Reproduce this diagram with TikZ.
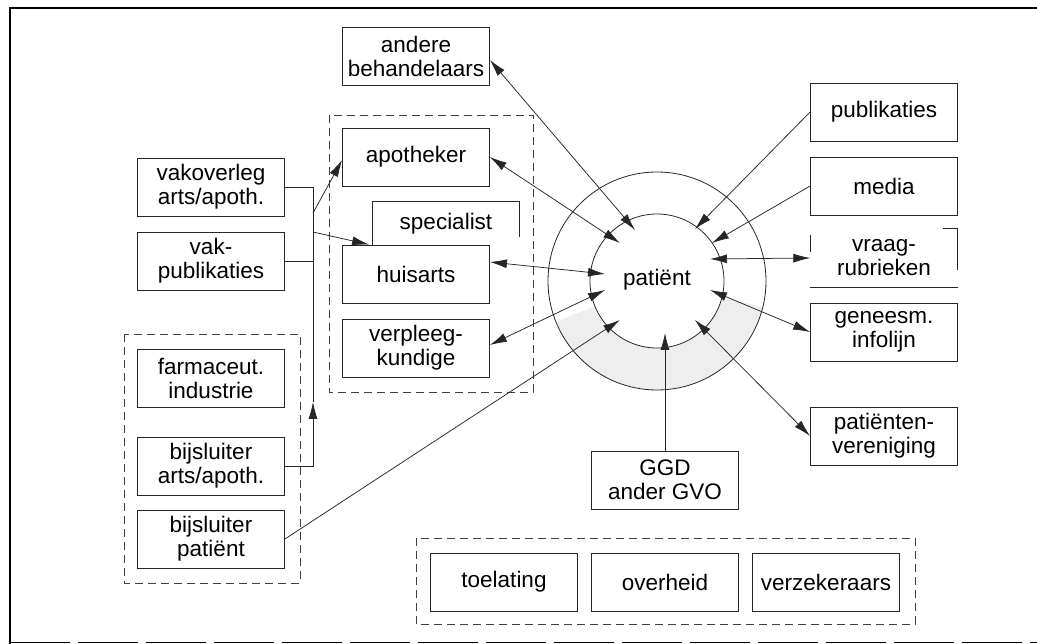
\documentclass[tikz,border=0pt]{standalone}
\usepackage{fontspec}
\setmainfont{Liberation Sans}
\usetikzlibrary{arrows.meta}
\begin{document}
\begin{tikzpicture}[x=1pt,y=-1pt,
  boxline/.style={draw=black!85, line width=0.8pt},
  box/.style={boxline, fill=white, minimum width=147pt, minimum height=58pt, inner sep=0pt, align=center, font=\fontsize{22.5}{24}\selectfont},
  plainbox/.style={draw=none, minimum width=147pt, minimum height=58pt, inner sep=0pt, align=center, font=\fontsize{22.5}{24}\selectfont},
  grp/.style={draw=black!75, line width=0.8pt, dash pattern=on 8pt off 5pt},
  conn/.style={line width=0.75pt, draw=black!85},
  tip/.style={-{Latex[length=17pt,width=9pt]}},
  dtip/.style={{Latex[length=17pt,width=9pt]}-{Latex[length=17pt,width=9pt]}}
]
\useasboundingbox (0,0) rectangle (1037,644);
% outer frame
\draw[line width=1.6pt] (10,644) -- (10,8) -- (1037,8);
\draw[line width=1pt, dash pattern=on 60pt off 8pt] (10,642) -- (1037,642);

% groups
\draw[grp] (329,115) rectangle (533,392);
\draw[grp] (124,334) rectangle (300,583);
\draw[grp] (416,538) rectangle (915,624);

% circle
\coordinate (c) at (657,281);
\fill[gray!13] ([shift={(14:109)}]c) arc[start angle=14, end angle=158, radius=109]
  -- ([shift={(158:67)}]c) arc[start angle=158, end angle=14, radius=67] -- cycle;
\draw[line width=0.8pt, black!85] (c) circle[radius=109];
\draw[line width=0.8pt, black!85] (c) circle[radius=67];
\node[font=\fontsize{22.5}{24}\selectfont] (pat) at (657,280) {patiënt};

% middle column
\node[box] (andere) at (416,56) {andere\\behandelaars};
\node[box] (apotheker) at (416,157) {apotheker};
\node[plainbox, minimum width=146pt, minimum height=43pt] (spec) at (446,223.5) {specialist};
\draw[boxline] (spec.south west) -- (spec.north west) -- (spec.north east) -- ([yshift=8pt]spec.south east);
\node[box] (huisarts) at (416,274) {huisarts};
\node[box] (verpleeg) at (416,348) {verpleeg-\\kundige};

% left column
\node[box] (vakoverleg) at (211,187) {vakoverleg\\arts/apoth.};
\node[box] (vakpub) at (211,261) {vak-\\publikaties};
\node[box] (farma) at (211,378) {farmaceut.\\industrie};
\node[box] (bijsarts) at (211,466) {bijsluiter\\arts/apoth.};
\node[box] (bijspat) at (211,539) {bijsluiter\\patiënt};

% right column
\node[box] (publ) at (884,112) {publikaties};
\node[box] (media) at (884,186) {media};
\node[plainbox] (vraag) at (884,258) {vraag-\\rubrieken};
\draw[boxline] (vraag.south west) -- (vraag.south east);
\draw[boxline] ([yshift=-6pt]vraag.north west) -- ([yshift=-23pt]vraag.north west);
\draw[boxline] ([xshift=-15pt]vraag.north east) -- (vraag.north east) -- ([yshift=-41pt]vraag.north east);
\node[box] (geneesm) at (884,332) {geneesm.\\infolijn};
\node[box] (patver) at (884,436) {patiënten-\\vereniging};

% bottom
\node[box] (ggd) at (665,480) {GGD\\ander GVO};
\node[box] (toel) at (504,582) {toelating};
\node[box] (overheid) at (665,582) {overheid};
\node[box] (verzek) at (826,582) {verzekeraars};

% circle end points
\coordinate (tA) at (635,230);
\coordinate (tAp) at (620,243);
\coordinate (tH) at (605,274);
\coordinate (tV) at (605,290);
\coordinate (tB) at (620,320);
\coordinate (tG) at (665,333);
\coordinate (tPV) at (695,320);
\coordinate (tGI) at (710,290);
\coordinate (tVR) at (710,259);
\coordinate (tM) at (712,243);
\coordinate (tP) at (695,229);

% connectors to patient
\draw[conn,dtip] ([yshift=-4pt]andere.east) -- (tA);
\draw[conn,dtip] (apotheker.east) -- (tAp);
\draw[conn,dtip] ([yshift=12pt]huisarts.east) -- (tH);
\draw[conn,dtip] ([yshift=3pt]verpleeg.east) -- (tV);
\draw[conn,tip] (bijspat.east) -- (tB);
\draw[conn,tip] (ggd.north) -- (tG);
\draw[conn,dtip] (tPV) -- (patver.west);
\draw[conn,dtip] (tGI) -- (geneesm.west);
\draw[conn,dtip] (tVR) -- (vraag.west);
\draw[conn,tip] (media.west) -- (tM);
\draw[conn,tip] (publ.west) -- (tP);

% bus on the left
\coordinate (bTop) at (313,187);
\coordinate (bVak) at (313,261);
\coordinate (bArr) at (313,402);
\coordinate (bBot) at (313,466);
\coordinate (bA) at (313,213);
\coordinate (bH) at (313,232);
\draw[conn] (vakoverleg.east) -- (bTop) -- (bArr);
\draw[conn] (vakpub.east) -- (bVak);
\draw[conn,tip] (bijsarts.east) -- (bBot) -- (bArr);
\draw[conn,tip] (bA) -- ([yshift=-3pt]apotheker.west);
\draw[conn,tip] (bH) -- ([xshift=27pt]huisarts.north west);
\end{tikzpicture}
\end{document}
